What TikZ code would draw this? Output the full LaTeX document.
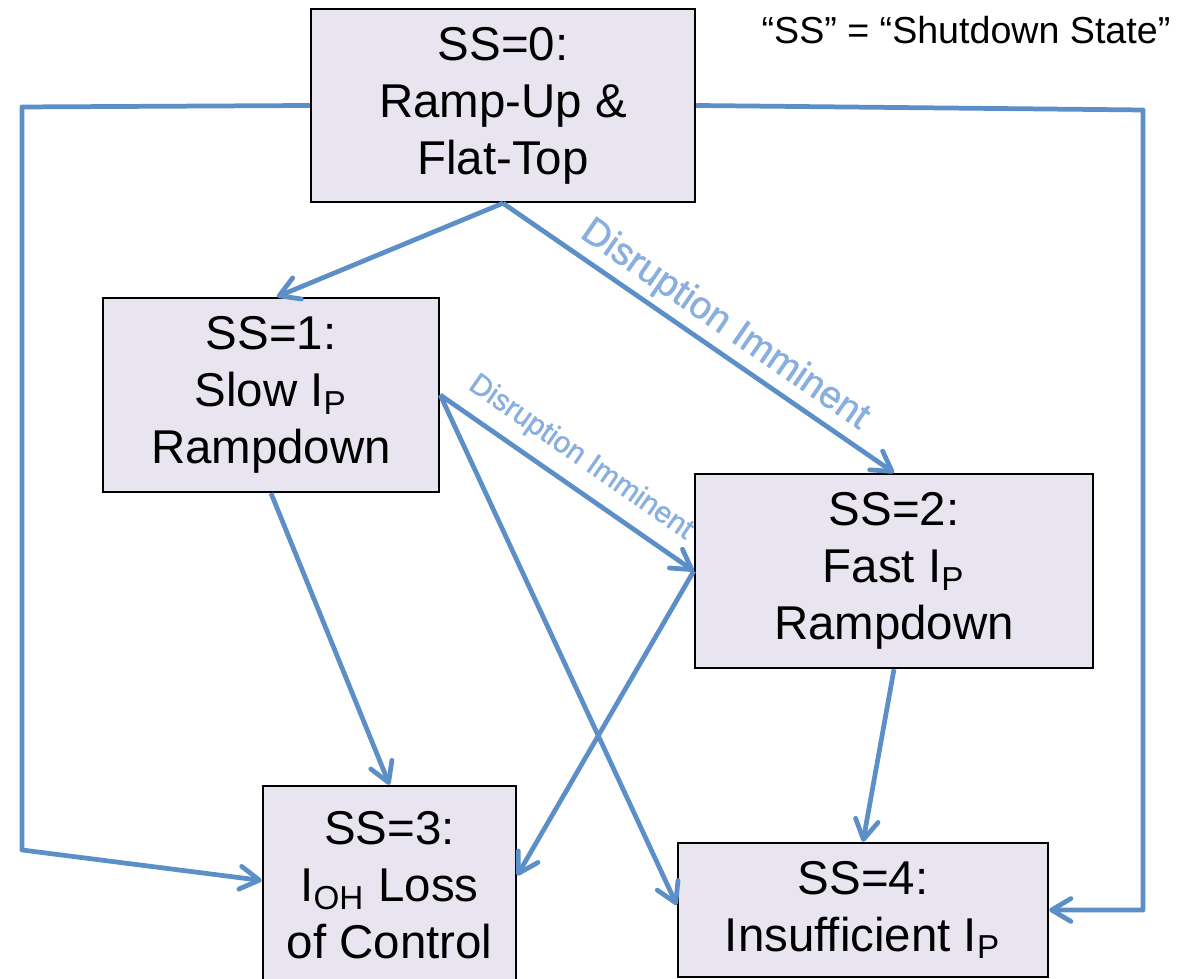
\documentclass[tikz,border=0pt]{standalone}
\usepackage{fontspec}
\setmainfont{Liberation Sans}
\newfontfamily\tagfont[FakeBold=1.2]{Liberation Sans}
\usetikzlibrary{arrows.meta,calc}
\definecolor{boxfill}{RGB}{233,229,240}
\definecolor{linkblue}{RGB}{92,143,199}
\definecolor{tagblue}{RGB}{136,175,222}

\begin{document}
\begin{tikzpicture}[
  state/.style={draw=black, line width=0.7pt, fill=boxfill, align=center,
    inner sep=0pt, font=\fontsize{13.5}{16.2}\selectfont},
  link/.style={draw=linkblue, line width=1.35pt, line join=round,
    -{Straight Barb[length=5.5pt,width=6.5pt,round]}},
  tag/.style={sloped, text=tagblue, inner sep=1pt}
]
\useasboundingbox (0,0) rectangle (11.8,9.79);

\node[state, minimum width=3.84cm, minimum height=1.93cm] (ss0) at (5.03,8.735) {SS=0:\\Ramp-Up \&\\Flat-Top};
\node[state, minimum width=3.36cm, minimum height=1.94cm] (ss1) at (2.71,5.84) {SS=1:\\Slow I\textsubscript{P}\\Rampdown};
\node[state, minimum width=3.98cm, minimum height=1.94cm] (ss2) at (8.94,4.08) {SS=2:\\Fast I\textsubscript{P}\\Rampdown};
\node[state, minimum width=2.53cm, minimum height=1.99cm] (ss3) at (3.895,0.935) {SS=3:\\I\textsubscript{OH} Loss\\of Control};
\node[state, minimum width=3.70cm, minimum height=1.34cm] (ss4) at (8.63,0.69) {SS=4:\\Insufficient I\textsubscript{P}};
\node[font=\fontsize{10.7}{13}\selectfont] (note) at (9.66,9.49) {“SS” = “Shutdown State”};

\coordinate (lt) at (0.22,8.72);
\coordinate (lb) at (0.22,1.29);
\coordinate (rt) at (11.43,8.69);

\draw[link] (ss0.west) -- (lt) -- (lb) -- ($(ss3.west)+(0,0.05)$);
\draw[link] (ss0.east) -- (rt) -- (rt |- ss4.east) -- (ss4.east);
\draw[link] (ss0.south) -- ($(ss1.north)+(0.06,0)$);
\draw[link] (ss0.south) -- node[tag, pos=0.53, above=0.5pt, font=\tagfont\fontsize{10.9}{13}\selectfont] {Disruption Imminent} (ss2.north);
\draw[link] (ss1.east) -- node[tag, pos=0.49, above=2.5pt, font=\tagfont\fontsize{8.5}{10}\selectfont] {Disruption Imminent} (ss2.west);
\draw[link] (ss1.east) -- ($(ss4.west)+(0,0.05)$);
\draw[link] (ss1.south) -- (ss3.north);
\draw[link] (ss2.west) -- ($(ss3.east)+(0,0.1)$);
\draw[link] (ss2.south) -- (ss4.north);

\end{tikzpicture}
\end{document}
